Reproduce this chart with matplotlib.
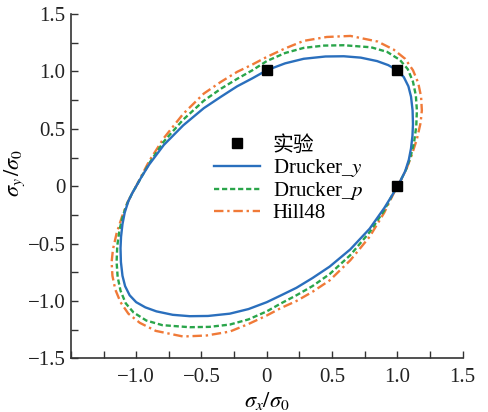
import matplotlib
matplotlib.use('Agg')
import matplotlib.pyplot as plt
from matplotlib.ticker import MultipleLocator

plt.rcParams['font.family'] = ['Liberation Serif', 'Noto Sans CJK SC']
plt.rcParams['mathtext.fontset'] = 'stix'

# experimental points
exp_x = [0.0, 1.0, 1.0]
exp_y = [1.01, 1.01, 0.0]

# Drucker_y locus (counter-clockwise from (1, 0))
dy_x = [1.00, 1.03, 1.06, 1.088, 1.105, 1.116, 1.12, 1.117, 1.105, 1.085, 1.05, 1.00,
        0.93, 0.845, 0.72, 0.59, 0.45, 0.283, 0.14, 0.0,
        -0.11, -0.227, -0.35, -0.482, -0.64, -0.788, -0.90, -0.96, -1.00,
        -1.03, -1.06, -1.088, -1.105, -1.116, -1.12, -1.117, -1.105, -1.085, -1.05, -1.00,
        -0.93, -0.845, -0.72, -0.59, -0.45, -0.283, -0.14, 0.0,
        0.11, 0.227, 0.35, 0.482, 0.64, 0.788, 0.90, 0.96, 1.00]
dy_y = [0.00, 0.06, 0.13, 0.23, 0.33, 0.44, 0.54, 0.66, 0.78, 0.87, 0.95, 1.01,
        1.055, 1.09, 1.12, 1.132, 1.13, 1.11, 1.07, 1.01,
        0.94, 0.87, 0.78, 0.68, 0.53, 0.36, 0.19, 0.08, 0.00,
        -0.06, -0.13, -0.23, -0.33, -0.44, -0.54, -0.66, -0.78, -0.87, -0.95, -1.01,
        -1.055, -1.09, -1.12, -1.132, -1.13, -1.11, -1.07, -1.01,
        -0.95, -0.885, -0.80, -0.70, -0.55, -0.37, -0.19, -0.08, 0.00]

# Drucker_p locus
dp_x = [1.00, 1.03, 1.065, 1.10, 1.128, 1.145, 1.15, 1.142, 1.12, 1.08, 1.02,
        0.922, 0.80, 0.59, 0.44, 0.283, 0.14, 0.0,
        -0.11, -0.227, -0.35, -0.482, -0.64, -0.788, -0.90, -0.96, -1.00,
        -1.03, -1.065, -1.10, -1.128, -1.145, -1.15, -1.142, -1.12, -1.08, -1.02,
        -0.922, -0.80, -0.59, -0.44, -0.283, -0.14, 0.0,
        0.11, 0.227, 0.35, 0.482, 0.64, 0.788, 0.90, 0.96, 1.00]
dp_y = [0.00, 0.06, 0.14, 0.25, 0.38, 0.52, 0.66, 0.79, 0.91, 1.02, 1.10,
        1.17, 1.21, 1.228, 1.225, 1.205, 1.16, 1.09,
        1.01, 0.935, 0.85, 0.745, 0.58, 0.39, 0.20, 0.08, 0.00,
        -0.06, -0.14, -0.25, -0.38, -0.52, -0.66, -0.79, -0.91, -1.02, -1.10,
        -1.17, -1.21, -1.228, -1.225, -1.205, -1.16, -1.09,
        -1.02, -0.95, -0.87, -0.765, -0.60, -0.40, -0.21, -0.08, 0.00]

# Hill48 locus
h_x = [1.00, 1.03, 1.07, 1.11, 1.15, 1.178, 1.188, 1.182, 1.16, 1.12, 1.06,
       0.972, 0.85, 0.641, 0.46, 0.283, 0.14, 0.0,
       -0.11, -0.227, -0.35, -0.482, -0.64, -0.788, -0.90, -0.96, -1.00,
       -1.03, -1.07, -1.11, -1.15, -1.178, -1.188, -1.182, -1.16, -1.12, -1.06,
       -0.972, -0.85, -0.641, -0.46, -0.283, -0.14, 0.0,
       0.11, 0.227, 0.35, 0.482, 0.64, 0.788, 0.90, 0.96, 1.00]
h_y = [0.00, 0.06, 0.15, 0.27, 0.41, 0.55, 0.66, 0.78, 0.90, 1.01, 1.11,
       1.19, 1.26, 1.309, 1.30, 1.266, 1.20, 1.126,
       1.06, 0.996, 0.91, 0.807, 0.63, 0.42, 0.22, 0.09, 0.00,
       -0.06, -0.15, -0.27, -0.41, -0.55, -0.66, -0.78, -0.90, -1.01, -1.11,
       -1.19, -1.26, -1.309, -1.30, -1.266, -1.20, -1.126,
       -1.06, -1.0, -0.92, -0.82, -0.645, -0.44, -0.23, -0.09, 0.00]

xticks = [-1.0, -0.5, 0.0, 0.5, 1.0, 1.5]
xtick_labels = ['\u22121.0', '\u22120.5', '0', '0.5', '1.0', '1.5']
yticks = [-1.5, -1.0, -0.5, 0.0, 0.5, 1.0, 1.5]
ytick_labels = ['\u22121.5', '\u22121.0', '\u22120.5', '0', '0.5', '1.0', '1.5']

fig = plt.figure(figsize=(4.89, 4.12), dpi=100)
ax = fig.add_axes([0.145, 0.13, 0.801, 0.836])

ax.plot(dy_x, dy_y, color='#2a6fbd', lw=1.7, label='Drucker_$y$', zorder=3)
ax.plot(dp_x, dp_y, color='#2aa54a', lw=1.7, ls=(0, (2.2, 1.2)), label='Drucker_$p$', zorder=2)
ax.plot(h_x, h_y, color='#f07a38', lw=1.7, ls=(0, (4, 1.6, 1, 1.6)), label='Hill48', zorder=1)
ax.plot(exp_x, exp_y, 's', color='black', ms=6.5, ls='none', label='实验', zorder=4)

ax.set_xlim(-1.5, 1.5)
ax.set_ylim(-1.5, 1.5)
ax.set_xticks(xticks)
ax.set_xticklabels(xtick_labels)
ax.set_yticks(yticks)
ax.set_yticklabels(ytick_labels)
ax.xaxis.set_minor_locator(MultipleLocator(0.25))
ax.yaxis.set_minor_locator(MultipleLocator(0.25))
ax.tick_params(which='both', direction='in', length=5, width=1, color='#333333',
               labelsize=15, labelcolor='#222222')
ax.tick_params(axis='x', pad=7)
ax.tick_params(axis='y', pad=4)

for side in ['top', 'right']:
    ax.spines[side].set_visible(False)
for side in ['left', 'bottom']:
    ax.spines[side].set_color('#333333')
    ax.spines[side].set_linewidth(1.2)

ax.set_xlabel(r'$\sigma_x/\sigma_0$', fontsize=16, labelpad=2)
ax.set_ylabel(r'$\sigma_y\,/\sigma_0$', fontsize=16)
ax.yaxis.set_label_coords(-0.112, 0.54)

handles, labels = ax.get_legend_handles_labels()
order = [3, 0, 1, 2]
ax.legend([handles[i] for i in order], [labels[i] for i in order],
          loc='upper left', bbox_to_anchor=(0.345, 0.67), frameon=False,
          fontsize=15, handlelength=2.2, handletextpad=0.6, labelspacing=0.06,
          borderaxespad=0)

fig.savefig('out.png', dpi=100)
